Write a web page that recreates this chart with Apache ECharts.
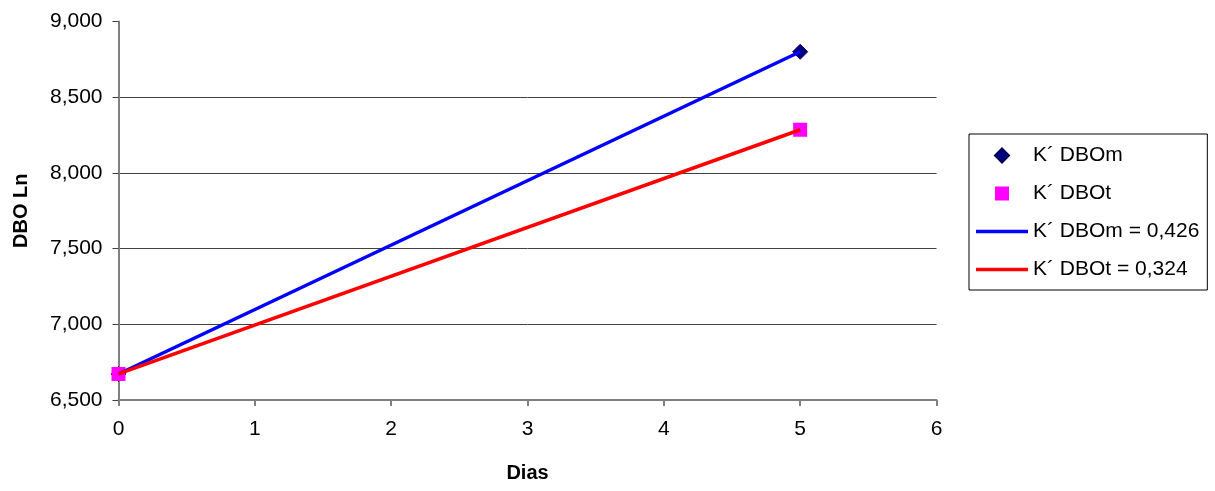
<!DOCTYPE html>
<html>
<head>
<meta charset="utf-8">
<script src="https://cdn.jsdelivr.net/npm/echarts@6/dist/echarts.min.js"></script>
<style>html,body{margin:0;padding:0;background:#fff}#c{width:1215px;height:491px}</style>
</head>
<body>
<div id="c"></div>
<script>
// Data
const dias = [0, 5];
const dboM = [6.672, 8.800];
const dboT = [6.672, 8.285];
const trendM = [6.672, 8.800];
const trendT = [6.672, 8.285];
const names = ['K\u00B4 DBOm', 'K\u00B4 DBOt', 'K\u00B4 DBOm = 0,426', 'K\u00B4 DBOt = 0,324'];
const xTicks = [0, 1, 2, 3, 4, 5, 6];
const yTicks = [6.5, 7.0, 7.5, 8.0, 8.5, 9.0];

const pairs = (xs, ys) => xs.map((x, i) => [x, ys[i]]);
const FONT = "'Liberation Sans', Arial, sans-serif";

const chart = echarts.init(document.getElementById('c'), null, {renderer: 'canvas'});
chart.setOption({
  animation: false,
  backgroundColor: '#ffffff',
  textStyle: {fontFamily: FONT},
  grid: {left: 118.5, right: 278.5, top: 21.5, bottom: 91},
  xAxis: {
    type: 'value', min: xTicks[0], max: xTicks[xTicks.length - 1], interval: 1,
    name: 'Dias', nameLocation: 'middle', nameGap: 63,
    nameTextStyle: {fontFamily: FONT, fontSize: 20, fontWeight: 'bold', color: '#000'},
    axisLine: {show: true, onZero: false, lineStyle: {color: '#808080', width: 2}},
    axisTick: {show: true, length: 6, lineStyle: {color: '#808080', width: 2}},
    axisLabel: {fontFamily: FONT, fontSize: 21, color: '#000', margin: 19},
    splitLine: {show: false}
  },
  yAxis: {
    type: 'value', min: yTicks[0], max: yTicks[yTicks.length - 1], interval: 0.5,
    name: 'DBO Ln', nameLocation: 'middle', nameGap: 87, nameRotate: 90,
    nameTextStyle: {fontFamily: FONT, fontSize: 20, fontWeight: 'bold', color: '#000'},
    axisLine: {show: true, lineStyle: {color: '#808080', width: 2}},
    axisTick: {show: true, length: 6, lineStyle: {color: '#404040', width: 1}},
    axisLabel: {fontFamily: FONT, fontSize: 21, color: '#000', margin: 16,
      formatter: v => v.toFixed(3).replace('.', ',')},
    splitLine: {show: true, lineStyle: {color: ['rgba(0,0,0,0)', '#404040', '#404040', '#404040', '#404040', 'rgba(0,0,0,0)'], width: 1}}
  },
  legend: {
    orient: 'vertical', left: 969, top: 134,
    padding: [11, 8, 10, 7], itemGap: 17,
    itemWidth: 52, itemHeight: 14,
    borderColor: '#000', borderWidth: 1,
    textStyle: {fontFamily: FONT, fontSize: 21, color: '#000', lineHeight: 20},
    data: [
      {name: names[0], icon: 'path://M0,-1L1,0L0,1L-1,0Z'},
      {name: names[1], icon: 'path://M0,0H1V1H0Z'},
      {name: names[2], icon: 'path://M0,0H52V3.5H0Z'},
      {name: names[3], icon: 'path://M0,0H52V3.5H0Z'}
    ]
  },
  series: [
    {name: names[0], type: 'scatter', data: pairs(dias, dboM), symbol: 'diamond', symbolSize: 15,
      itemStyle: {color: '#000080', borderColor: '#00005a', borderWidth: 1, opacity: 1}, z: 3},
    {name: names[1], type: 'scatter', data: pairs(dias, dboT), symbol: 'rect', symbolSize: 14,
      itemStyle: {color: '#ff00ff', opacity: 1}, z: 3},
    {name: names[2], type: 'line', data: pairs(dias, trendM), showSymbol: false, symbol: 'none',
      lineStyle: {color: '#0000ff', width: 3.5}, itemStyle: {color: '#0000ff'}, z: 4},
    {name: names[3], type: 'line', data: pairs(dias, trendT), showSymbol: false, symbol: 'none',
      lineStyle: {color: '#ff0000', width: 3.5}, itemStyle: {color: '#ff0000'}, z: 4}
  ]
});
</script>
</body>
</html>
